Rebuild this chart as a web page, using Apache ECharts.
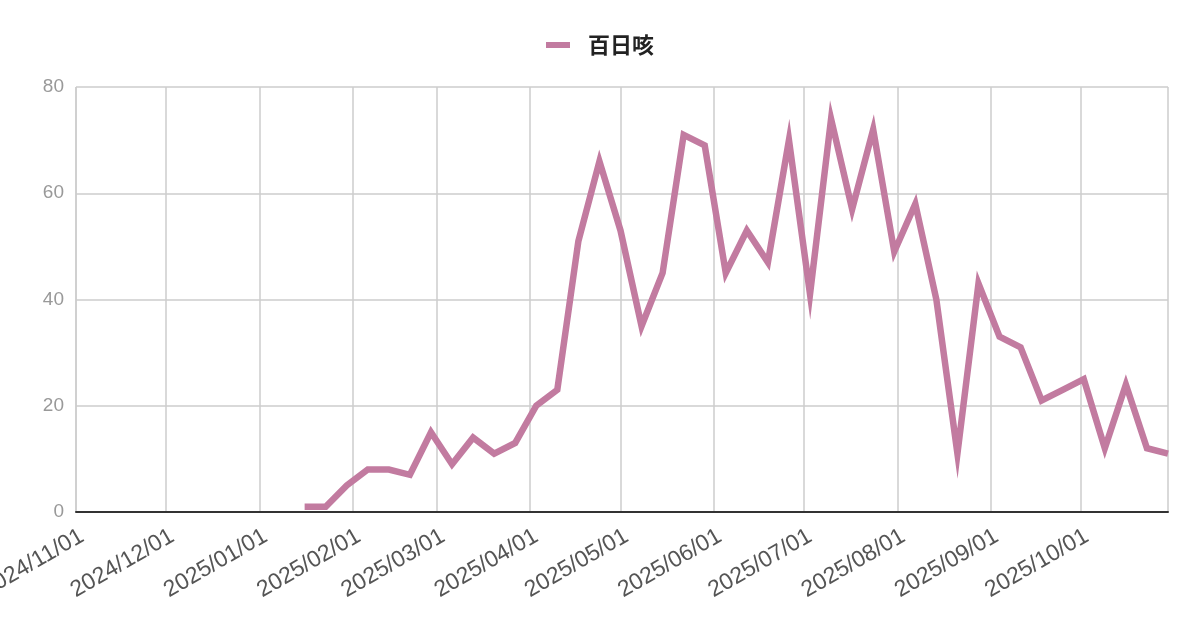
<!DOCTYPE html>
<html>
<head>
<meta charset="utf-8">
<script src="https://cdn.jsdelivr.net/npm/echarts@6/dist/echarts.min.js"></script>
<style>
html,body{margin:0;padding:0;background:#fff;}
#chart{width:1200px;height:626px;}
</style>
</head>
<body>
<div id="chart"></div>
<script>
const seriesName = '百日咳';
const weekDates = [
  '2025-01-16','2025-01-23','2025-01-30','2025-02-06','2025-02-13','2025-02-20','2025-02-27',
  '2025-03-06','2025-03-13','2025-03-20','2025-03-27','2025-04-03','2025-04-10','2025-04-17',
  '2025-04-24','2025-05-01','2025-05-08','2025-05-15','2025-05-22','2025-05-29','2025-06-05',
  '2025-06-12','2025-06-19','2025-06-26','2025-07-03','2025-07-10','2025-07-17','2025-07-24',
  '2025-07-31','2025-08-07','2025-08-14','2025-08-21','2025-08-28','2025-09-04','2025-09-11',
  '2025-09-18','2025-09-25','2025-10-02','2025-10-09','2025-10-16','2025-10-23','2025-10-30'
];
const cases = [
  1, 1, 5, 8, 8, 7, 15,
  9, 14, 11, 13, 20, 23, 51,
  66, 53, 35, 45, 71, 69, 45,
  53, 47, 70, 41, 74, 57, 72,
  49, 58, 40, 11, 43, 33, 31,
  21, 23, 25, 12, 24, 12, 11
];
const axisStart = '2024-11-01';
const axisEnd = '2025-10-30';
const yTicks = { min: 0, max: 80, interval: 20 };

const chart = echarts.init(document.getElementById('chart'));
const DAY = 86400000;
chart.setOption({
  animation: false,
  backgroundColor: '#ffffff',
  textStyle: { fontFamily: 'Arial, "Liberation Sans", sans-serif' },
  legend: {
    data: [seriesName],
    top: 29,
    left: 'center',
    icon: 'rect',
    itemWidth: 24,
    itemHeight: 6,
    textStyle: {
      fontFamily: '"Noto Sans CJK JP", sans-serif',
      fontSize: 22,
      fontWeight: 'bold',
      color: '#222222',
      padding: [0, 0, 0, 13]
    }
  },
  grid: { left: 76, right: 32, top: 87, bottom: 114, containLabel: false, outerBoundsMode: 'none' },
  xAxis: {
    type: 'time',
    min: axisStart,
    max: axisEnd,
    splitNumber: 12,
    minInterval: 28 * DAY,
    maxInterval: 31 * DAY,
    axisLine: { show: true, lineStyle: { color: '#333333', width: 2 } },
    axisTick: { show: false },
    splitLine: { show: true, lineStyle: { color: '#cccccc', width: 1.5 } },
    axisLabel: {
      rotate: 30,
      formatter: '{yyyy}/{MM}/{dd}',
      color: '#555555',
      fontSize: 23,
      margin: 26,
      padding: [0, -7, 0, 0],
      showMinLabel: true,
      showMaxLabel: false,
      hideOverlap: false
    }
  },
  yAxis: {
    type: 'value',
    min: yTicks.min,
    max: yTicks.max,
    interval: yTicks.interval,
    axisLine: { show: false },
    axisTick: { show: false },
    splitLine: { lineStyle: { color: '#cccccc', width: 1.5 } },
    axisLabel: { color: '#999999', fontSize: 19, margin: 12 }
  },
  series: [{
    name: seriesName,
    type: 'line',
    data: weekDates.map((d, i) => [d, cases[i]]),
    showSymbol: false,
    symbol: 'none',
    lineStyle: { color: '#c27ba0', width: 6.5, cap: 'butt', join: 'miter' },
    itemStyle: { color: '#c27ba0' }
  }]
});
</script>
</body>
</html>
